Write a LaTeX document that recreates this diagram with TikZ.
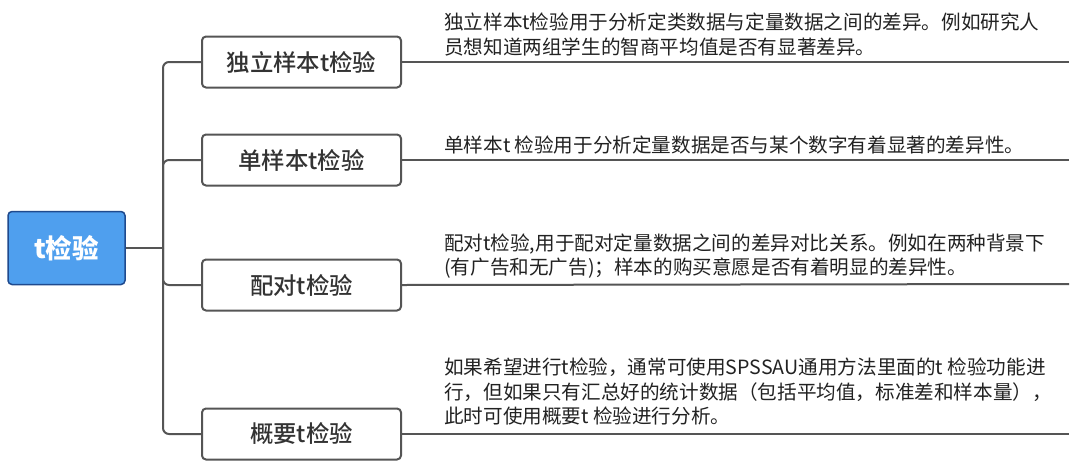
\documentclass[tikz,border=0pt]{standalone}
\usepackage{fontspec}
\setmainfont{Noto Sans CJK SC}
\newfontfamily\cjkbold{Noto Sans CJK SC}[BoldFont={* Bold}]
\newfontfamily\cjkmed{Noto Sans CJK SC Medium}
\newfontfamily\cjklight{Noto Sans CJK SC DemiLight}
\definecolor{rootfill}{HTML}{4F9FEE}
\definecolor{rootline}{HTML}{1F4A8E}
\definecolor{linegray}{HTML}{555555}
\definecolor{txtgray}{HTML}{333333}
\definecolor{desctxt}{HTML}{222222}
\tikzset{
  rootbox/.style={draw=rootline, line width=1.5pt, fill=rootfill, rounded corners=4pt,
    minimum width=117pt, minimum height=73pt, inner sep=0pt,
    font=\fontsize{26.5pt}{30pt}\selectfont\bfseries, text=white},
  childbox/.style={draw=linegray, line width=2pt, fill=white, rounded corners=4pt,
    minimum width=199pt, minimum height=51pt, inner sep=0pt,
    font=\cjkmed\fontsize{23.4pt}{27pt}\selectfont, text=txtgray},
  desc/.style={anchor=west, inner sep=0pt, align=left, text=desctxt,
    font=\fontsize{19.6pt}{24.5pt}\selectfont},
  conn/.style={draw=linegray, line width=2pt, rounded corners=6pt},
  sep/.style={draw=linegray, line width=2pt}
}
\begin{document}
\begin{tikzpicture}[x=1pt,y=-1pt]
\useasboundingbox (0,0) rectangle (1080,475);
\fill[white] (0,0) rectangle (1080,475);

\node[rootbox] (root) at (66.5,248) {t检验};

\node[childbox] (c1) at (301.5,62) {独立样本t检验};
\node[childbox] (c2) at (301.5,160) {单样本t检验};
\node[childbox] (c3) at (301.5,285) {配对t检验};
\node[childbox] (c4) at (301.5,434) {概要t检验};

\coordinate (tr) at (163,248);
\draw[sep] (root.east) -- (tr);
\foreach \c in {c1,c2,c3,c4}{
  \draw[conn] (tr) |- (\c.west);
}

\coordinate (e1) at (1069,62);
\coordinate (e2) at (1069,160);
\coordinate (e3) at (1069,284);
\coordinate (e4) at (1069,434);
\draw[sep] (c1.east) -- (e1);
\draw[sep] (c2.east) -- (e2);
\draw[sep] (c3.east) -- (e3);
\draw[sep] (c4.east) -- (e4);

\node[desc] (d1) at (444,34.5) {独立样本t检验用于分析定类数据与定量数据之间的差异。例如研究人\\员想知道两组学生的智商平均值是否有显著差异。};
\node[desc] (d2) at (444,145) {单样本t 检验用于分析定量数据是否与某个数字有着显著的差异性。};
\node[desc] (d3) at (444,256) {配对t检验,用于配对定量数据之间的差异对比关系。例如在两种背景下\\(有广告和无广告)；样本的购买意愿是否有着明显的差异性。};
\node[desc] (d4) at (444,392) {如果希望进行t检验，通常可使用SPSSAU通用方法里面的t 检验功能进\\行，但如果只有汇总好的统计数据（包括平均值，标准差和样本量），\\此时可使用概要t 检验进行分析。};
\end{tikzpicture}
\end{document}
